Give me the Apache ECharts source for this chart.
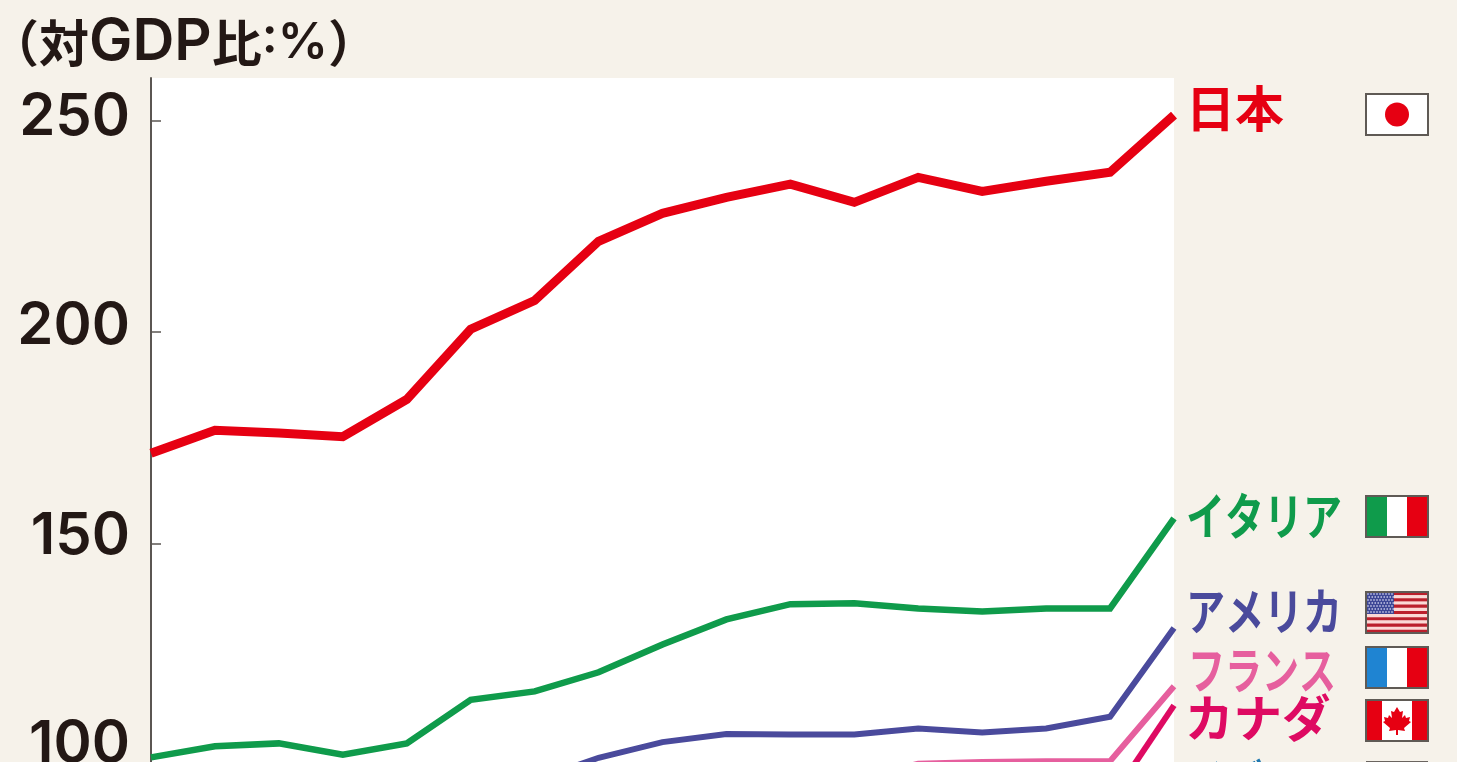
<!DOCTYPE html>
<html>
<head>
<meta charset="utf-8">
<style>html,body{margin:0;padding:0;background:#f6f2ea;overflow:hidden}#c{width:1457px;height:762px}</style>
<script src="https://cdn.jsdelivr.net/npm/echarts@6/dist/echarts.min.js"></script>
</head>
<body>
<div id="c"></div>
<script>
const years = ['2004','2005','2006','2007','2008','2009','2010','2011','2012','2013','2014','2015','2016','2017','2018','2019','2020'];
const yTicks = [50, 100, 150, 200, 250];
const japan  = [171.3,176.7,176.1,175.2,184,200.6,207.4,221.4,228,231.8,234.9,230.6,236.5,233.2,235.6,237.7,251.2];
const italy  = [99.4,102,102.7,100,102.7,113,115,119.5,126.1,132,135.6,135.8,134.6,133.9,134.6,134.6,155.9];
const usa    = [null,null,null,null,null,null,94,99.3,103,104.9,104.8,104.8,106.2,105.3,106.2,109,130];
const france = [null,null,null,null,null,null,null,null,null,null,null,94,97.9,98.3,98.5,98.5,116.2];
const canada = [null,null,null,null,null,null,null,null,null,null,null,null,null,null,null,89.2,111.7];
const names  = ['日本','イタリア','アメリカ','フランス','カナダ'];
const lineColors = ['#e60012','#0f9b4b','#4a4a9c','#e65f9e','#de0a62'];
const ukLabel = 'イギリス';

const FONT = '"Noto Sans CJK JP"';
const BG = '#f6f2ea';
const axisColor = '#5b5652';

const mk = (name, data, color, width) => ({
  name, type: 'line', data, symbol: 'none', smooth: false,
  connectNulls: false, clip: true, silent: true, animation: false,
  lineStyle: { color, width, cap: 'butt', join: 'miter' }
});

const graphic = [];
const lab = (text, x, y, size, sx, fill) => graphic.push({
  type: 'text', x, y, scaleX: sx, silent: true,
  style: { text, fill, font: `700 ${size}px ${FONT}`, verticalAlign: 'middle', align: 'left' }
});
lab(names[0], 1186, 108, 49, 1, lineColors[0]);
lab(names[1], 1186, 515.5, 50, 0.78, lineColors[1]);
lab(names[2], 1186, 611, 50, 0.78, lineColors[2]);
lab(names[3], 1188, 670, 50, 0.74, lineColors[3]);
lab(names[4], 1185, 718, 50, 0.97, lineColors[4]);
lab(ukLabel, 1186, 783, 50, 0.78, '#1f78b0');

const FX = 1366, FW = 62, FH = 41;
const border = { stroke: '#5f5a55', lineWidth: 2 };
const rect = (x, y, w, h, fill) => graphic.push({ type: 'rect', silent: true, shape: { x, y, width: w, height: h }, style: { fill } });
const frame = (y) => graphic.push({ type: 'rect', silent: true, shape: { x: FX, y, width: FW, height: FH }, style: { fill: 'none', ...border } });

// Japan
rect(FX, 94, FW, FH, '#ffffff');
graphic.push({ type: 'circle', silent: true, shape: { cx: 1397, cy: 114.5, r: 12 }, style: { fill: '#e60012' } });
frame(94);
// Italy
rect(FX, 496, 21, FH, '#0f9b4b'); rect(FX + 21, 496, 20, FH, '#ffffff'); rect(FX + 41, 496, 21, FH, '#e60012');
frame(496);
// USA
for (let i = 0; i < 13; i++) {
  rect(FX, 592 + i * FH / 13, FW, FH / 13 + 0.2, i % 2 ? '#fbd9d6' : '#bb1f2c');
}
rect(FX, 592, 28, 22, '#3d4796');
for (let r = 0; r < 7; r++) for (let c = 0; c < 9; c++) {
  graphic.push({ type: 'circle', silent: true, shape: { cx: FX + 2 + c * 3 + (r % 2 ? 1.2 : 0), cy: 594 + r * 3, r: 0.8 }, style: { fill: '#eef' } });
}
frame(592);
// France
rect(FX, 647, 21, FH, '#1f84d2'); rect(FX + 21, 647, 20, FH, '#ffffff'); rect(FX + 41, 647, 21, FH, '#e60012');
frame(647);
// Canada
rect(FX, 700, 16, FH, '#e60012'); rect(FX + 16, 700, 30, FH, '#ffffff'); rect(FX + 46, 700, 16, FH, '#e60012');
graphic.push({ type: 'polygon', silent: true, shape: { points: [
  [1397,707],[1400,712],[1403,711],[1402,718],[1405,715],[1406,718],[1410,717],[1409,721],[1411,722],[1404,728],[1405,731],[1398,730],[1398,735],[1396,735],[1396,730],[1389,731],[1390,728],[1383,722],[1385,721],[1384,717],[1388,718],[1389,715],[1392,718],[1391,711],[1394,712]
] }, style: { fill: '#e60012' } });
frame(700);
// UK (only the top edge is in frame)
rect(FX, 761, FW, FH, '#6b6560');

const chart = echarts.init(document.getElementById('c'), null, { renderer: 'canvas' });
const num = { fontFamily: 'Inter', fontSize: 58, fontWeight: 600, color: '#231815' };
const richNum = {
  u50: { ...num },
  u100: { ...num, padding: [0, 0, 20, 0] },
  u150: { ...num, padding: [0, 0, 14, 0] },
  u200: { ...num, padding: [0, 0, 11, 0] },
  u250: { ...num, padding: [0, 0, 5, 0] }
};
chart.setOption({
  animation: false,
  backgroundColor: BG,
  title: {
    left: -16, top: 9,
    text: '{a|（対}{b|GDP}{a|比}{c|:%}{a|）}',
    textStyle: {
      fontWeight: 'normal',
      rich: {
        a: { fontFamily: FONT, fontSize: 50, fontWeight: 700, color: '#231815' },
        b: { fontFamily: 'Inter', fontSize: 58, fontWeight: 600, color: '#231815' },
        c: { fontFamily: 'Inter', fontSize: 50, fontWeight: 600, color: '#231815' }
      }
    }
  },
  grid: { left: 151, right: 283, top: 78, bottom: -204.3, show: true, backgroundColor: '#ffffff', borderWidth: 0, containLabel: false, outerBoundsMode: 'none' },
  xAxis: { type: 'category', data: years, boundaryGap: false, show: false },
  yAxis: {
    type: 'value', min: 50, max: 260, interval: 50,
    axisLine: { show: true, lineStyle: { color: axisColor, width: 2 } },
    axisTick: { show: true, inside: true, length: 10, lineStyle: { color: axisColor, width: 1.5 } },
    splitLine: { show: false },
    axisLabel: {
      margin: 21,
      showMaxLabel: false,
      formatter: v => yTicks.includes(v) ? `{u${v}|${v}}` : '',
      rich: richNum
    }
  },
  graphic,
  series: [
    mk(names[4], canada, lineColors[4], 6),
    mk(names[3], france, lineColors[3], 6),
    mk(names[2], usa, lineColors[2], 6),
    mk(names[1], italy, lineColors[1], 6.5),
    mk(names[0], japan, lineColors[0], 9)
  ]
});
</script>
</body>
</html>
